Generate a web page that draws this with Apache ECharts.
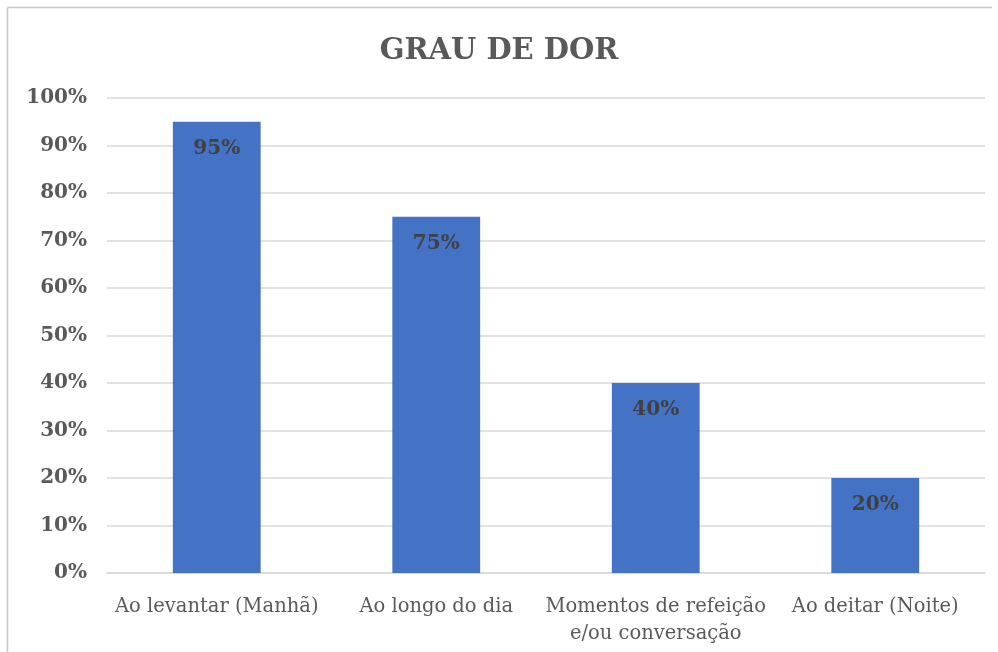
<!DOCTYPE html>
<html>
<head>
<meta charset="utf-8">
<script src="https://cdn.jsdelivr.net/npm/echarts@6/dist/echarts.min.js"></script>
<style>
  html, body { margin: 0; padding: 0; background: #fff; overflow: hidden; }
  #chart { width: 998px; height: 652px; }
</style>
</head>
<body>
<div id="chart"></div>
<script>
// 数据
const categories = ['Ao levantar (Manhã)', 'Ao longo do dia', 'Momentos de refeição\ne/ou conversação', 'Ao deitar (Noite)'];
const values = [0.95, 0.75, 0.40, 0.20];
const titleText = 'GRAU DE DOR';

const FONT = '"DejaVu Serif", "Liberation Serif", serif';

const chart = echarts.init(document.getElementById('chart'));
chart.setOption({
  animation: false,
  backgroundColor: '#fff',
  title: {
    text: titleText,
    left: 'center',
    top: 32,
    textStyle: {
      fontFamily: FONT,
      fontSize: 29,
      fontWeight: 'bold',
      color: '#595959'
    }
  },
  // 外边框（只露出左边和上边）
  graphic: [
    {
      type: 'line',
      shape: { x1: 7.5, y1: 7.5, x2: 992, y2: 7.5 },
      style: { stroke: '#c8c8c8', lineWidth: 1.5 },
      silent: true
    },
    {
      type: 'line',
      shape: { x1: 7.5, y1: 7.5, x2: 7.5, y2: 652 },
      style: { stroke: '#c8c8c8', lineWidth: 1.5 },
      silent: true
    }
  ],
  grid: {
    left: 107,
    right: 13,
    top: 98,
    bottom: 79
  },
  xAxis: {
    type: 'category',
    data: categories,
    axisTick: { show: false },
    axisLine: { lineStyle: { color: '#d9d9d9', width: 1.5 } },
    axisLabel: {
      fontFamily: FONT,
      fontSize: 19.5,
      color: '#595959',
      margin: 20,
      lineHeight: 27,
      interval: 0
    }
  },
  yAxis: {
    type: 'value',
    min: 0,
    max: 1,
    interval: 0.1,
    axisLine: { show: false },
    axisTick: { show: false },
    splitLine: { lineStyle: { color: '#d9d9d9', width: 1.5 } },
    axisLabel: {
      fontFamily: FONT,
      fontSize: 20,
      fontWeight: 'bold',
      color: '#595959',
      margin: 20,
      formatter: v => Math.round(v * 100) + '%'
    }
  },
  series: [{
    type: 'bar',
    data: values,
    barWidth: '40%',
    itemStyle: { color: '#4472C4' },
    label: {
      show: true,
      position: 'insideTop',
      distance: 17,
      fontFamily: FONT,
      fontSize: 20,
      fontWeight: 'bold',
      color: '#404040',
      formatter: p => Math.round(p.value * 100) + '%'
    }
  }]
});
</script>
</body>
</html>
